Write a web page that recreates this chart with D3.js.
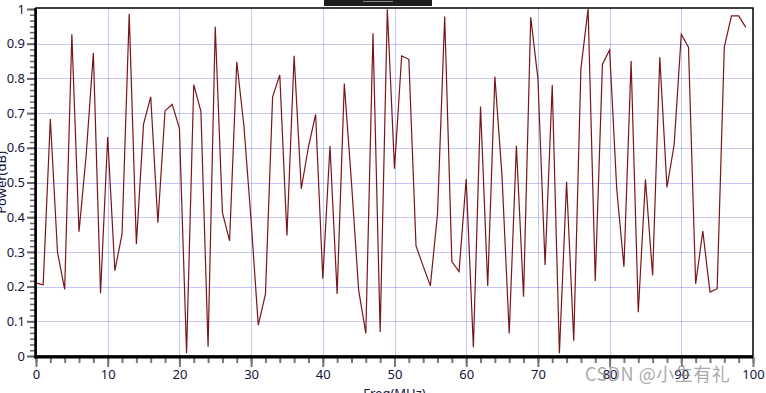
<!DOCTYPE html>
<html>
<head>
<meta charset="utf-8" />
<title>Power vs Freq</title>
<style>
  body { margin: 0; background: #fff; }
  svg { display: block; }
  .lbl { font-family: "Segoe UI", "Noto Sans", "DejaVu Sans", sans-serif; font-size: 13px; fill: #14143c; }
  .tick text { font-family: "Segoe UI", "Noto Sans", "DejaVu Sans", sans-serif; font-size: 13px; fill: #14143c; }
</style>
</head>
<body>
<svg id="chart" width="766" height="393"></svg>
<script src="https://cdn.jsdelivr.net/npm/d3@7"></script>
<script>
// values, one per MHz step
const freq = d3.range(0, 100)
const power = [
  0.21, 0.205, 0.683, 0.299, 0.192, 0.927, 0.358, 0.58, 0.873, 0.181,
  0.631, 0.246, 0.351, 0.986, 0.322, 0.668, 0.747, 0.384, 0.707, 0.725,
  0.656, 0.008, 0.782, 0.705, 0.027, 0.949, 0.413, 0.332, 0.848, 0.663,
  0.39, 0.089, 0.178, 0.747, 0.81, 0.347, 0.865, 0.482, 0.603, 0.696,
  0.223, 0.605, 0.179, 0.785, 0.5, 0.19, 0.065, 0.93, 0.069, 0.999,
  0.54, 0.865, 0.855, 0.317, 0.259, 0.202, 0.41, 0.978, 0.272, 0.243,
  0.51, 0.025, 0.719, 0.202, 0.805, 0.517, 0.065, 0.606, 0.171, 0.976,
  0.8, 0.262, 0.781, 0.008, 0.502, 0.044, 0.829, 1.0, 0.216, 0.841,
  0.882, 0.48, 0.257, 0.85, 0.126, 0.509, 0.232, 0.861, 0.486, 0.608,
  0.927, 0.89, 0.208, 0.36, 0.184, 0.194, 0.891, 0.98, 0.98, 0.947
]
const xTicks = d3.range(0, 101, 10)
const xMinor = d3.range(0, 101, 2)
const yTicks = d3.range(0, 11).map(d => d / 10)
const yMinor = d3.range(0, 61).map(d => d / 60)

const mLeft = 36, mRight = 753, mTop = 9, mBottom = 356

const svg = d3.select('#chart')
const x = d3.scaleLinear().domain([0, 100]).range([mLeft, mRight])
const y = d3.scaleLinear().domain([0, 1]).range([mBottom, mTop])

// grid
const grid = svg.append('g').attr('stroke', 'rgba(70,70,215,0.3)').attr('stroke-width', 1)
grid.selectAll('.gx').data(xTicks.slice(1, -1)).join('line')
  .attr('x1', d => Math.round(x(d)) + 0.5).attr('x2', d => Math.round(x(d)) + 0.5)
  .attr('y1', mTop - 1).attr('y2', mBottom)
grid.selectAll('.gy').data(yTicks.slice(1, -1)).join('line')
  .attr('x1', mLeft).attr('x2', mRight)
  .attr('y1', d => Math.round(y(d)) + 0.5).attr('y2', d => Math.round(y(d)) + 0.5)

// data line
const line = d3.line().x((d, i) => x(freq[i])).y(d => y(d))
svg.append('path').datum(power)
  .attr('fill', 'none').attr('stroke', '#7a1619').attr('stroke-width', 1.2)
  .attr('d', line)

// frame
svg.append('rect').attr('x', mLeft).attr('y', mTop - 1).attr('width', mRight - mLeft).attr('height', mBottom - mTop + 1)
  .attr('fill', 'none').attr('stroke', '#000').attr('stroke-width', 1.5)

// minor ticks
svg.append('g').attr('transform', `translate(0,${mBottom + 1})`)
  .call(d3.axisBottom(x).tickValues(xMinor).tickSize(6).tickFormat(''))
  .call(g => g.select('.domain').remove())
  .call(g => g.selectAll('line').attr('stroke', '#777').attr('stroke-width', 2))
svg.append('g').attr('transform', `translate(${mLeft - 1},0)`)
  .call(d3.axisLeft(y).tickValues(yMinor).tickSize(5).tickFormat(''))
  .call(g => g.select('.domain').remove())
  .call(g => g.selectAll('line').attr('stroke', '#666').attr('stroke-width', 1.5))

// major ticks with labels
svg.append('g').attr('transform', `translate(0,${mBottom + 1})`)
  .call(d3.axisBottom(x).tickValues(xTicks).tickSize(10).tickPadding(3).tickFormat(d3.format('d')))
  .call(g => g.select('.domain').remove())
  .call(g => g.selectAll('line').attr('stroke', '#777').attr('stroke-width', 2))
svg.append('g').attr('transform', `translate(${mLeft - 1},0)`)
  .call(d3.axisLeft(y).tickValues(yTicks).tickSize(8).tickPadding(2).tickFormat(d => d === 0 || d === 1 ? d3.format('d')(d) : d3.format('.1f')(d)))
  .call(g => g.select('.domain').remove())
  .call(g => g.selectAll('line').attr('stroke', '#666').attr('stroke-width', 2))

// thick axis lines
svg.append('line').attr('x1', mLeft - 0.5).attr('x2', mLeft - 0.5).attr('y1', mTop - 1).attr('y2', mBottom + 2.5)
  .attr('stroke', '#000').attr('stroke-width', 2.5)
svg.append('line').attr('x1', mLeft - 1.5).attr('x2', mRight).attr('y1', mBottom + 1).attr('y2', mBottom + 1)
  .attr('stroke', '#000').attr('stroke-width', 3)

// axis titles (partly cut by the edges, as in the screenshot)
svg.append('text').attr('class', 'lbl')
  .attr('transform', `translate(6,${(mTop + mBottom) / 2}) rotate(-90)`)
  .attr('text-anchor', 'middle').text('Power(dB)')
svg.append('text').attr('class', 'lbl')
  .attr('x', (mLeft + mRight) / 2).attr('y', 398)
  .attr('text-anchor', 'middle').text('Freq(MHz)')

// dark bar at the top
svg.append('rect').attr('x', 324).attr('y', 0).attr('width', 108).attr('height', 6).attr('fill', '#1e1e1e')
svg.append('line').attr('x1', 363).attr('x2', 393).attr('y1', 1.5).attr('y2', 1.5).attr('stroke', '#8a8a8a')

// watermark
svg.append('text').attr('x', 585).attr('y', 381)
  .attr('font-family', '"Noto Sans CJK SC", "Noto Sans", sans-serif').attr('font-size', 18)
  .attr('letter-spacing', 0.5)
  .attr('fill', 'rgba(110,110,110,0.6)').text('CSDN @小生有礼')
</script>
</body>
</html>
